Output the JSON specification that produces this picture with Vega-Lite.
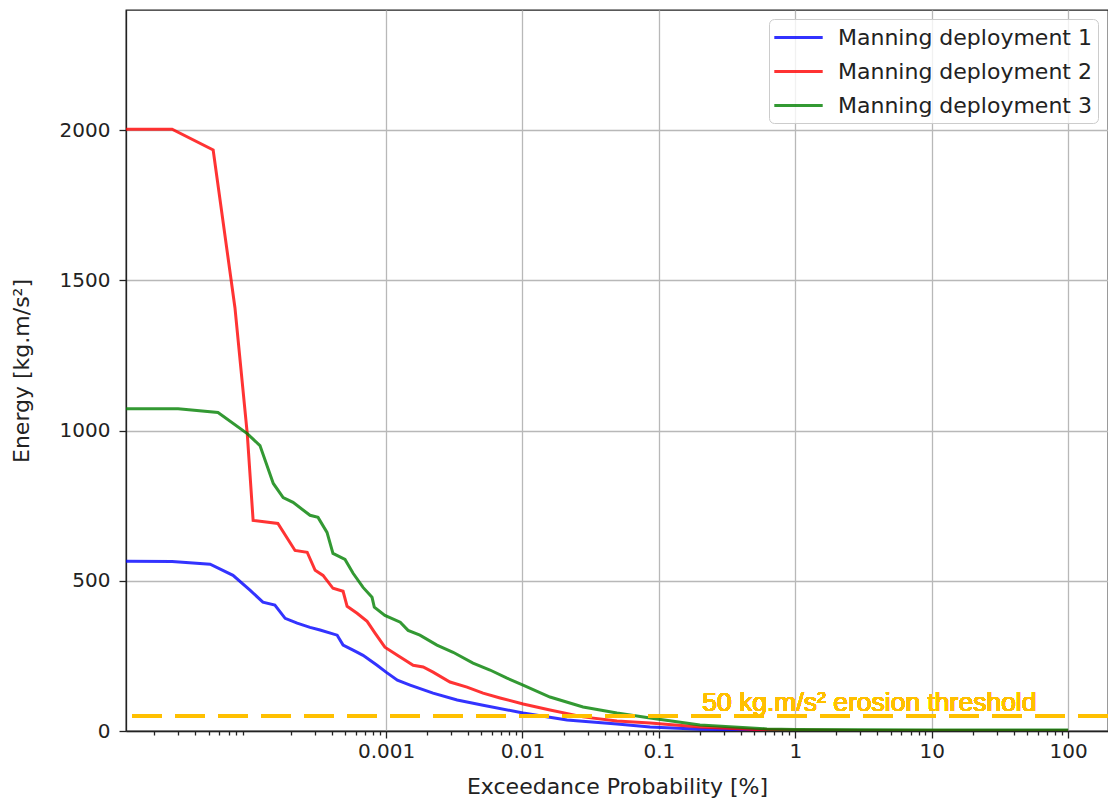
{
  "$schema": "https://vega.github.io/schema/vega-lite/v6.json",
  "autosize": {"type": "none"},
  "padding": {"left": 126, "top": 10, "right": 0, "bottom": 73},
  "width": 982,
  "height": 721,
  "background": "white",
  "config": {
    "font": "DejaVu Sans",
    "view": {"stroke": "#222222", "strokeWidth": 1.3},
    "axis": {
      "domainColor": "#222222",
      "domainWidth": 1.3,
      "tickColor": "#222222",
      "tickWidth": 1.3,
      "gridColor": "#b8b8b8",
      "gridWidth": 1.3,
      "labelFont": "DejaVu Sans",
      "labelFontSize": 20,
      "labelColor": "#222222",
      "titleFont": "DejaVu Sans",
      "titleFontSize": 22,
      "titleFontWeight": "normal",
      "titleColor": "#222222"
    }
  },
  "data": {
    "values": [
      {"p": 1.24e-5, "energy": 565, "deployment": "Manning deployment 1"},
      {"p": 2.7e-5, "energy": 564, "deployment": "Manning deployment 1"},
      {"p": 5.13e-5, "energy": 555, "deployment": "Manning deployment 1"},
      {"p": 7.55e-5, "energy": 518, "deployment": "Manning deployment 1"},
      {"p": 1.01e-4, "energy": 468, "deployment": "Manning deployment 1"},
      {"p": 1.25e-4, "energy": 429, "deployment": "Manning deployment 1"},
      {"p": 1.53e-4, "energy": 419, "deployment": "Manning deployment 1"},
      {"p": 1.82e-4, "energy": 375, "deployment": "Manning deployment 1"},
      {"p": 2.23e-4, "energy": 359, "deployment": "Manning deployment 1"},
      {"p": 2.77e-4, "energy": 345, "deployment": "Manning deployment 1"},
      {"p": 3.28e-4, "energy": 336, "deployment": "Manning deployment 1"},
      {"p": 4.38e-4, "energy": 319, "deployment": "Manning deployment 1"},
      {"p": 4.84e-4, "energy": 286, "deployment": "Manning deployment 1"},
      {"p": 5.73e-4, "energy": 269, "deployment": "Manning deployment 1"},
      {"p": 6.78e-4, "energy": 252, "deployment": "Manning deployment 1"},
      {"p": 8.59e-4, "energy": 219, "deployment": "Manning deployment 1"},
      {"p": 1.0e-3, "energy": 196, "deployment": "Manning deployment 1"},
      {"p": 1.21e-3, "energy": 169, "deployment": "Manning deployment 1"},
      {"p": 1.5e-3, "energy": 153, "deployment": "Manning deployment 1"},
      {"p": 2.21e-3, "energy": 126, "deployment": "Manning deployment 1"},
      {"p": 3.32e-3, "energy": 103, "deployment": "Manning deployment 1"},
      {"p": 5.14e-3, "energy": 86, "deployment": "Manning deployment 1"},
      {"p": 0.0101, "energy": 60, "deployment": "Manning deployment 1"},
      {"p": 0.0212, "energy": 37, "deployment": "Manning deployment 1"},
      {"p": 0.0493, "energy": 23, "deployment": "Manning deployment 1"},
      {"p": 0.0862, "energy": 13, "deployment": "Manning deployment 1"},
      {"p": 0.2, "energy": 6, "deployment": "Manning deployment 1"},
      {"p": 0.5, "energy": 3, "deployment": "Manning deployment 1"},
      {"p": 1, "energy": 2, "deployment": "Manning deployment 1"},
      {"p": 3, "energy": 1.5, "deployment": "Manning deployment 1"},
      {"p": 10, "energy": 1, "deployment": "Manning deployment 1"},
      {"p": 100, "energy": 0.5, "deployment": "Manning deployment 1"},

      {"p": 1.24e-5, "energy": 2003, "deployment": "Manning deployment 2"},
      {"p": 2.7e-5, "energy": 2003, "deployment": "Manning deployment 2"},
      {"p": 5.4e-5, "energy": 1934, "deployment": "Manning deployment 2"},
      {"p": 7.8e-5, "energy": 1409, "deployment": "Manning deployment 2"},
      {"p": 9.6e-5, "energy": 990, "deployment": "Manning deployment 2"},
      {"p": 1.06e-4, "energy": 701, "deployment": "Manning deployment 2"},
      {"p": 1.61e-4, "energy": 691, "deployment": "Manning deployment 2"},
      {"p": 2.15e-4, "energy": 601, "deployment": "Manning deployment 2"},
      {"p": 2.64e-4, "energy": 595, "deployment": "Manning deployment 2"},
      {"p": 3.02e-4, "energy": 535, "deployment": "Manning deployment 2"},
      {"p": 3.45e-4, "energy": 518, "deployment": "Manning deployment 2"},
      {"p": 4.08e-4, "energy": 475, "deployment": "Manning deployment 2"},
      {"p": 4.84e-4, "energy": 465, "deployment": "Manning deployment 2"},
      {"p": 5.18e-4, "energy": 415, "deployment": "Manning deployment 2"},
      {"p": 6.13e-4, "energy": 392, "deployment": "Manning deployment 2"},
      {"p": 7.26e-4, "energy": 365, "deployment": "Manning deployment 2"},
      {"p": 8.3e-4, "energy": 326, "deployment": "Manning deployment 2"},
      {"p": 9.8e-4, "energy": 279, "deployment": "Manning deployment 2"},
      {"p": 1.21e-3, "energy": 252, "deployment": "Manning deployment 2"},
      {"p": 1.58e-3, "energy": 219, "deployment": "Manning deployment 2"},
      {"p": 1.87e-3, "energy": 213, "deployment": "Manning deployment 2"},
      {"p": 2.21e-3, "energy": 196, "deployment": "Manning deployment 2"},
      {"p": 2.94e-3, "energy": 163, "deployment": "Manning deployment 2"},
      {"p": 3.92e-3, "energy": 146, "deployment": "Manning deployment 2"},
      {"p": 5.14e-3, "energy": 126, "deployment": "Manning deployment 2"},
      {"p": 6.85e-3, "energy": 110, "deployment": "Manning deployment 2"},
      {"p": 0.0101, "energy": 90, "deployment": "Manning deployment 2"},
      {"p": 0.0159, "energy": 70, "deployment": "Manning deployment 2"},
      {"p": 0.0278, "energy": 47, "deployment": "Manning deployment 2"},
      {"p": 0.0493, "energy": 33, "deployment": "Manning deployment 2"},
      {"p": 0.0862, "energy": 27, "deployment": "Manning deployment 2"},
      {"p": 0.2, "energy": 13, "deployment": "Manning deployment 2"},
      {"p": 0.5, "energy": 5, "deployment": "Manning deployment 2"},
      {"p": 1, "energy": 3, "deployment": "Manning deployment 2"},
      {"p": 3, "energy": 2, "deployment": "Manning deployment 2"},
      {"p": 10, "energy": 1.5, "deployment": "Manning deployment 2"},
      {"p": 100, "energy": 1, "deployment": "Manning deployment 2"},

      {"p": 1.24e-5, "energy": 1073, "deployment": "Manning deployment 3"},
      {"p": 2.99e-5, "energy": 1073, "deployment": "Manning deployment 3"},
      {"p": 5.86e-5, "energy": 1060, "deployment": "Manning deployment 3"},
      {"p": 9.6e-5, "energy": 990, "deployment": "Manning deployment 3"},
      {"p": 1.19e-4, "energy": 950, "deployment": "Manning deployment 3"},
      {"p": 1.49e-4, "energy": 824, "deployment": "Manning deployment 3"},
      {"p": 1.76e-4, "energy": 777, "deployment": "Manning deployment 3"},
      {"p": 2.08e-4, "energy": 761, "deployment": "Manning deployment 3"},
      {"p": 2.77e-4, "energy": 718, "deployment": "Manning deployment 3"},
      {"p": 3.17e-4, "energy": 711, "deployment": "Manning deployment 3"},
      {"p": 3.69e-4, "energy": 661, "deployment": "Manning deployment 3"},
      {"p": 4.08e-4, "energy": 591, "deployment": "Manning deployment 3"},
      {"p": 5.0e-4, "energy": 571, "deployment": "Manning deployment 3"},
      {"p": 5.73e-4, "energy": 525, "deployment": "Manning deployment 3"},
      {"p": 6.78e-4, "energy": 478, "deployment": "Manning deployment 3"},
      {"p": 7.89e-4, "energy": 445, "deployment": "Manning deployment 3"},
      {"p": 8.2e-4, "energy": 412, "deployment": "Manning deployment 3"},
      {"p": 9.8e-4, "energy": 385, "deployment": "Manning deployment 3"},
      {"p": 1.27e-3, "energy": 362, "deployment": "Manning deployment 3"},
      {"p": 1.45e-3, "energy": 335, "deployment": "Manning deployment 3"},
      {"p": 1.77e-3, "energy": 319, "deployment": "Manning deployment 3"},
      {"p": 2.36e-3, "energy": 286, "deployment": "Manning deployment 3"},
      {"p": 3.1e-3, "energy": 262, "deployment": "Manning deployment 3"},
      {"p": 4.34e-3, "energy": 226, "deployment": "Manning deployment 3"},
      {"p": 5.78e-3, "energy": 203, "deployment": "Manning deployment 3"},
      {"p": 7.7e-3, "energy": 176, "deployment": "Manning deployment 3"},
      {"p": 0.0101, "energy": 153, "deployment": "Manning deployment 3"},
      {"p": 0.0159, "energy": 113, "deployment": "Manning deployment 3"},
      {"p": 0.0278, "energy": 80, "deployment": "Manning deployment 3"},
      {"p": 0.0493, "energy": 60, "deployment": "Manning deployment 3"},
      {"p": 0.0862, "energy": 43, "deployment": "Manning deployment 3"},
      {"p": 0.2, "energy": 20, "deployment": "Manning deployment 3"},
      {"p": 0.62, "energy": 7, "deployment": "Manning deployment 3"},
      {"p": 1, "energy": 5, "deployment": "Manning deployment 3"},
      {"p": 3, "energy": 4, "deployment": "Manning deployment 3"},
      {"p": 10, "energy": 3.5, "deployment": "Manning deployment 3"},
      {"p": 100, "energy": 3, "deployment": "Manning deployment 3"}
    ]
  },
  "layer": [
    {
      "mark": {"type": "line", "strokeWidth": 3, "opacity": 0.8, "clip": true},
      "encoding": {
        "x": {
          "field": "p",
          "type": "quantitative",
          "scale": {"type": "log", "domain": [1.24e-5, 196], "nice": false},
          "axis": {
            "title": "Exceedance Probability [%]",
            "titlePadding": 15,
            "labelPadding": 3,
            "labelOverlap": false,
            "labelFlush": false,
            "values": [2e-5, 3e-5, 4e-5, 5e-5, 6e-5, 7e-5, 8e-5, 9e-5,
                       2e-4, 3e-4, 4e-4, 5e-4, 6e-4, 7e-4, 8e-4, 9e-4,
                       0.001, 0.002, 0.003, 0.004, 0.005, 0.006, 0.007, 0.008, 0.009,
                       0.01, 0.02, 0.03, 0.04, 0.05, 0.06, 0.07, 0.08, 0.09,
                       0.1, 0.2, 0.3, 0.4, 0.5, 0.6, 0.7, 0.8, 0.9,
                       1, 2, 3, 4, 5, 6, 7, 8, 9,
                       10, 20, 30, 40, 50, 60, 70, 80, 90, 100],
            "labelExpr": "indexof([0.001, 0.01, 0.1, 1, 10, 100], datum.value) >= 0 ? format(datum.value, '~g') : ''",
            "tickSize": {"condition": {"test": "indexof([0.001, 0.01, 0.1, 1, 10, 100], datum.value) >= 0", "value": 7}, "value": 4},
            "gridOpacity": {"condition": {"test": "indexof([0.001, 0.01, 0.1, 1, 10, 100], datum.value) >= 0", "value": 1}, "value": 0}
          }
        },
        "y": {
          "field": "energy",
          "type": "quantitative",
          "scale": {"domain": [0, 2400], "nice": false},
          "axis": {
            "title": "Energy [kg.m/s²]",
            "values": [0, 500, 1000, 1500, 2000],
            "format": "d",
            "tickSize": 7,
            "labelPadding": 9,
            "titlePadding": 26
          }
        },
        "color": {
          "field": "deployment",
          "type": "nominal",
          "scale": {
            "domain": ["Manning deployment 1", "Manning deployment 2", "Manning deployment 3"],
            "range": ["#0000ff", "#ff0000", "#008000"]
          },
          "legend": {
            "title": null,
            "orient": "none",
            "legendX": 643,
            "legendY": 9,
            "symbolType": "M-2.2,0H2.2",
            "symbolSize": 484,
            "symbolOffset": 11,
            "symbolStrokeWidth": 3,
            "symbolOpacity": 0.8,
            "labelFont": "DejaVu Sans",
            "labelFontSize": 22,
            "labelLimit": 400,
            "labelColor": "#222222",
            "labelOffset": 27,
            "rowPadding": 10,
            "padding": 6,
            "fillColor": "rgba(255,255,255,0.8)",
            "strokeColor": "#cccccc",
            "cornerRadius": 5
          }
        }
      }
    },
    {
      "mark": {"type": "rule", "color": "#FFC000", "strokeWidth": 3.5, "strokeDash": [30, 13]},
      "encoding": {"y": {"datum": 50, "type": "quantitative"}}
    },
    {
      "mark": {"type": "text", "text": "50 kg.m/s² erosion threshold", "font": "Liberation Sans", "fontSize": 26.5, "fontWeight": "normal", "fill": "#FFC000", "strokeWidth": 0, "align": "left", "baseline": "alphabetic"},
      "encoding": {
        "x": {"datum": 0.2075, "type": "quantitative"},
        "y": {"datum": 66, "type": "quantitative"}
      }
    }
  ]
}
